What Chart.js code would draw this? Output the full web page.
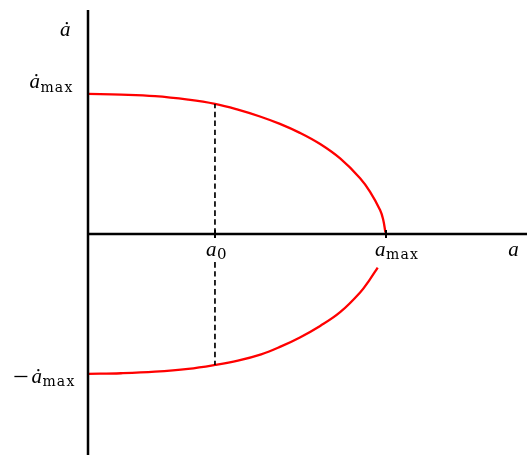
<!DOCTYPE html>
<html>
<head>
<meta charset="utf-8">
<script src="https://cdn.jsdelivr.net/npm/chart.js@4/dist/chart.umd.min.js"></script>
<style>
  html, body { margin: 0; padding: 0; background: #fff; }
  #wrap { width: 527px; height: 455px; position: relative; }
</style>
</head>
<body>
<div id="wrap"><canvas id="c" width="527" height="455"></canvas></div>
<script>
// ---- data (a / a_max, ȧ / ȧ_max) ----
const upperA = [0, 0.111, 0.225, 0.336, 0.426, 0.503, 0.577, 0.644, 0.711, 0.779, 0.846, 0.913, 0.946, 0.980, 0.990, 0.998];
const upperV = [1.0, 0.995, 0.984, 0.959, 0.929, 0.888, 0.839, 0.786, 0.722, 0.642, 0.539, 0.398, 0.302, 0.171, 0.107, 0.01];
const lowerA = [0, 0.111, 0.225, 0.336, 0.426, 0.503, 0.581, 0.644, 0.711, 0.779, 0.846, 0.913, 0.946, 0.972];
const lowerV = [-1.0, -0.995, -0.984, -0.964, -0.936, -0.905, -0.860, -0.807, -0.739, -0.657, -0.559, -0.418, -0.324, -0.241];
const a0 = 0.426;
const aMax = 1.0;
const dashUpper = [0, 0.929];
const dashLower = [-0.2, -0.936];
const xRange = [0, 1.473];
const yRange = [-1.579, 1.671];
const axisTop = 1.6;
const tickLabels = { a0: ["a", "0"], aMax: ["a", "max"], aAxis: "a", vAxis: "a\u0307", vMax: ["a\u0307", "max"], vMin: ["a\u0307", "max"] };

const pts = (xs, ys) => xs.map((x, i) => ({ x: x, y: ys[i] }));

const ITAL = "italic 21px 'Liberation Serif'";
const SUB = "14px 'DejaVu Serif'";
const SUB_SPACING = "1.2px";

function drawSub(ctx, main, sub, x, y, subDrop, align) {
  ctx.letterSpacing = "0px";
  ctx.font = ITAL;
  const w1 = ctx.measureText(main).width;
  ctx.font = sub === "0" ? "15px 'DejaVu Serif'" : SUB;
  ctx.letterSpacing = sub === "0" ? "0px" : SUB_SPACING;
  const w2 = ctx.measureText(sub).width;
  let start = x;
  if (align === 'right') start = x - w1 - w2 - 1;
  ctx.textAlign = 'left';
  ctx.textBaseline = 'alphabetic';
  const f2 = ctx.font, ls2 = ctx.letterSpacing;
  ctx.letterSpacing = "0px";
  ctx.font = ITAL;
  ctx.fillText(main, start, y);
  ctx.font = f2;
  ctx.letterSpacing = ls2;
  ctx.fillText(sub, start + w1 + 0.5, y + subDrop);
  ctx.letterSpacing = "0px";
  return start;
}

const overlay = {
  id: 'overlay',
  afterDatasetsDraw(chart) {
    const ctx = chart.ctx;
    const xs = chart.scales.x, ys = chart.scales.y;
    const x0 = xs.getPixelForValue(0), y0 = ys.getPixelForValue(0);
    ctx.save();
    ctx.strokeStyle = '#000';
    ctx.lineWidth = 2;
    [a0, aMax].forEach(v => {
      const px = Math.round(xs.getPixelForValue(v));
      ctx.beginPath(); ctx.moveTo(px, y0 - 4); ctx.lineTo(px, y0 + 4); ctx.stroke();
    });
    ctx.fillStyle = '#000';
    drawSub(ctx, tickLabels.a0[0], tickLabels.a0[1], xs.getPixelForValue(a0) - 9, y0 + 22, 3, 'left');
    drawSub(ctx, tickLabels.aMax[0], tickLabels.aMax[1], xs.getPixelForValue(aMax) - 11, y0 + 22, 3, 'left');
    ctx.font = ITAL; ctx.textAlign = 'left';
    ctx.fillText(tickLabels.aAxis, xs.getPixelForValue(1.41), y0 + 22);
    ctx.fillText(tickLabels.vAxis, x0 - 28, ys.getPixelForValue(axisTop) + 26);
    drawSub(ctx, tickLabels.vMax[0], tickLabels.vMax[1], x0 - 14, ys.getPixelForValue(1) - 6, 4, 'right');
    const s = drawSub(ctx, tickLabels.vMin[0], tickLabels.vMin[1], x0 - 12, ys.getPixelForValue(-1) + 9, 3, 'right');
    // minus sign
    ctx.lineWidth = 1.3;
    const my = Math.round(ys.getPixelForValue(-1) + 2) + 0.5;
    ctx.beginPath(); ctx.moveTo(s - 17, my); ctx.lineTo(s - 4, my); ctx.stroke();
    ctx.restore();
  }
};

const lineDs = (data, color, width, dash) => ({
  data: data, showLine: true, borderColor: color, borderWidth: width,
  borderDash: dash || [], pointRadius: 0, clip: false, tension: 0.4
});

new Chart(document.getElementById('c'), {
  type: 'scatter',
  data: {
    datasets: [
      lineDs([{ x: 0, y: yRange[0] }, { x: 0, y: axisTop }], '#000', 2.5),
      lineDs([{ x: 0, y: 0 }, { x: xRange[1], y: 0 }], '#000', 2.5),
      lineDs([{ x: a0, y: dashUpper[0] }, { x: a0, y: dashUpper[1] }], '#000', 1.7, [5.5, 3.5]),
      lineDs([{ x: a0, y: dashLower[0] }, { x: a0, y: dashLower[1] }], '#000', 1.7, [5.5, 3.5]),
      lineDs(pts(upperA, upperV), '#ff0000', 2.3),
      lineDs(pts(lowerA, lowerV), '#ff0000', 2.3)
    ]
  },
  options: {
    responsive: false,
    animation: false,
    layout: { padding: { left: 88, right: 0, top: 0, bottom: 0 } },
    plugins: { legend: { display: false }, tooltip: { enabled: false } },
    scales: {
      x: { type: 'linear', min: xRange[0], max: xRange[1], display: false },
      y: { type: 'linear', min: yRange[0], max: yRange[1], display: false }
    }
  },
  plugins: [overlay]
});
</script>
</body>
</html>
